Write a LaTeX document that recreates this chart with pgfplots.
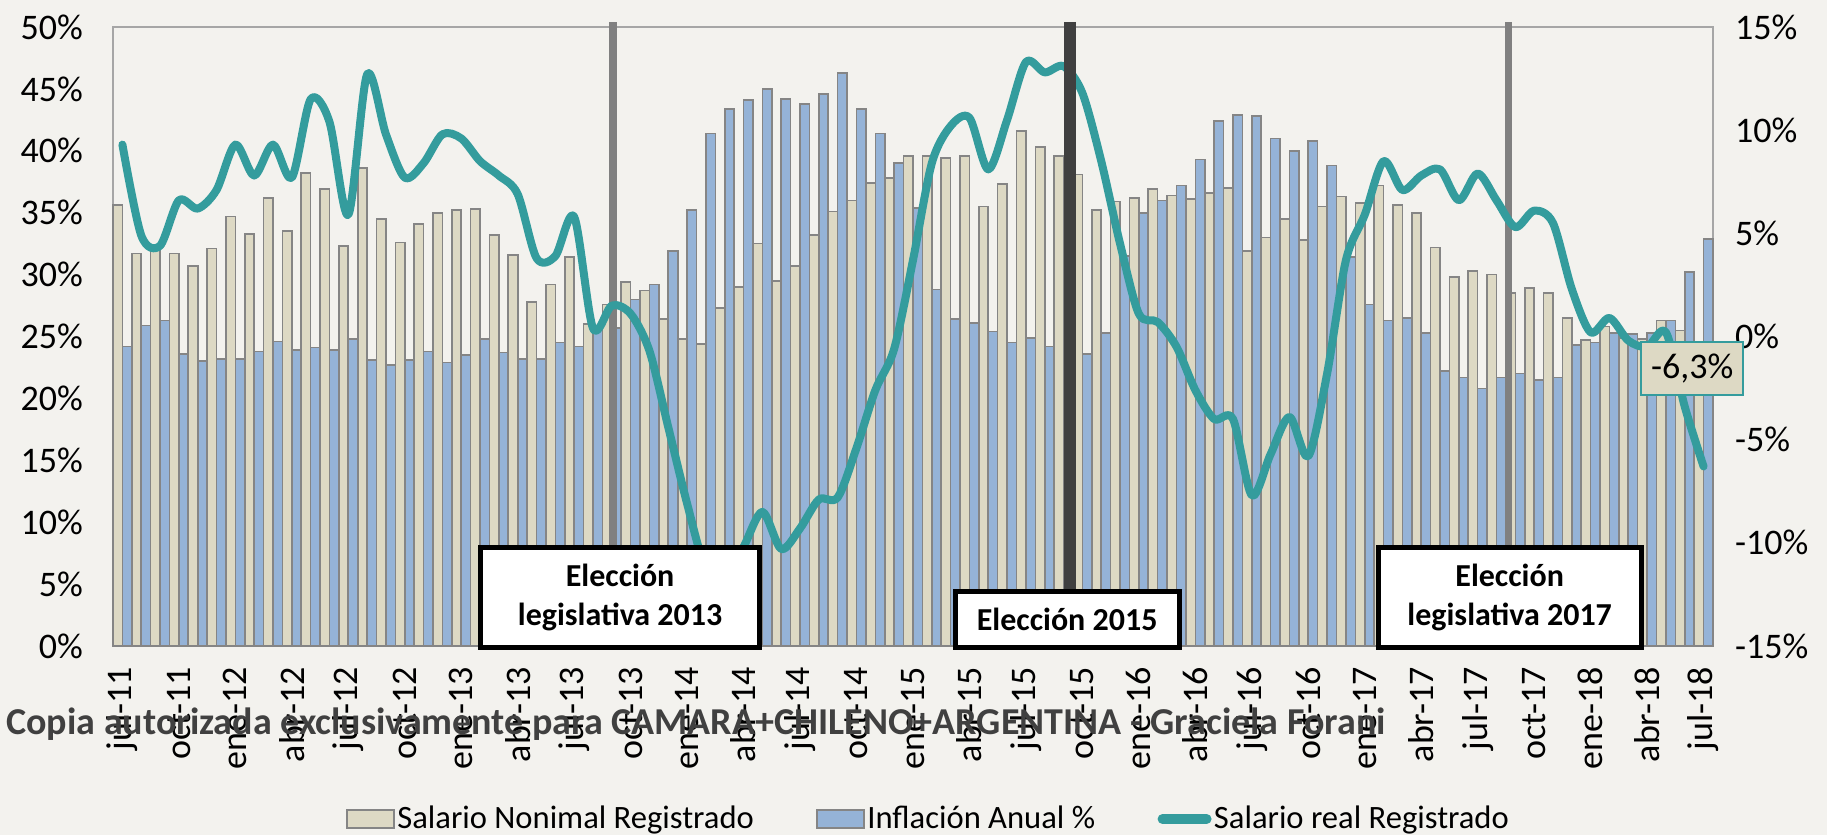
\documentclass[border=0pt]{standalone}
\usepackage{fontspec}
\setmainfont{Carlito}
\usepackage{pgfplots}
\pgfplotsset{compat=1.18}
\usepackage{pgfplotstable}
\definecolor{bgc}{HTML}{F3F2EE}
\definecolor{beigeb}{HTML}{DDD9C4}
\definecolor{blueb}{HTML}{95B3D7}
\definecolor{tealr}{HTML}{349C9D}
\definecolor{edgeg}{HTML}{858585}
\definecolor{frameg}{HTML}{A6A6A6}
\definecolor{elgray}{HTML}{808080}
\definecolor{eldark}{HTML}{404040}
\pgfplotsset{
  barleg/.style={legend image code/.code={\draw[##1] (0pt,-4.5pt) rectangle (23.5pt,4.5pt);}},
  lineleg/.style={legend image code/.code={\draw[##1] (0pt,0pt) -- (22pt,0pt);}},
}

\pgfplotstableread{
x nom inf real
0 35.6 24.2 9.3
1 31.7 25.9 4.9
2 32.0 26.3 4.4
3 31.7 23.6 6.6
4 30.7 23.0 6.2
5 32.1 23.2 7.1
6 34.7 23.2 9.3
7 33.3 23.8 7.8
8 36.2 24.6 9.3
9 33.5 23.9 7.7
10 38.2 24.1 11.5
11 36.9 23.9 10.4
12 32.3 24.8 5.9
13 38.6 23.1 12.7
14 34.5 22.7 9.8
15 32.6 23.1 7.7
16 34.1 23.8 8.4
17 35.0 22.9 9.8
18 35.2 23.5 9.6
19 35.3 24.8 8.5
20 33.2 23.7 7.8
21 31.6 23.2 6.9
22 27.8 23.2 3.8
23 29.2 24.5 3.9
24 31.4 24.2 5.8
25 26.0 25.5 0.4
26 27.6 25.7 1.5
27 29.4 28.0 1.1
28 28.7 29.2 -0.7
29 26.4 31.9 -4.4
30 24.8 35.2 -8.1
31 24.4 41.4 -11.3
32 27.3 43.4 -11.8
33 29.0 44.1 -10.2
34 32.5 45.0 -8.5
35 29.5 44.2 -10.3
36 30.7 43.8 -9.3
37 33.2 44.6 -7.9
38 35.1 46.3 -7.8
39 36.0 43.4 -5.4
40 37.4 41.4 -2.6
41 37.8 39.0 -0.6
42 39.6 35.4 3.7
43 39.6 28.8 8.4
44 39.4 26.4 10.2
45 39.6 26.1 10.6
46 35.5 25.4 8.1
47 37.3 24.5 10.5
48 41.6 24.9 13.3
49 40.3 24.2 12.8
50 39.6 24.0 13.1
51 38.1 23.6 11.8
52 35.2 25.3 8.5
53 35.9 31.5 4.5
54 36.2 35.0 1.1
55 36.9 36.0 0.7
56 36.4 37.2 -0.5
57 36.1 39.3 -2.6
58 36.6 42.4 -4.0
59 37.0 42.9 -4.0
60 31.9 42.8 -7.7
61 33.0 41.0 -5.7
62 34.5 40.0 -3.9
63 32.8 40.8 -5.8
64 35.5 38.8 -1.8
65 36.3 31.4 3.7
66 35.8 27.6 5.9
67 37.2 26.3 8.5
68 35.6 26.5 7.1
69 35.0 25.3 7.8
70 32.2 22.2 8.1
71 29.8 21.7 6.6
72 30.3 20.8 7.9
73 30.0 21.7 6.6
74 28.5 22.0 5.3
75 28.9 21.5 6.1
76 28.5 21.7 5.5
77 26.5 24.3 2.3
78 24.7 24.5 0.2
79 25.8 25.3 0.9
80 24.9 25.2 -0.2
81 24.8 25.3 -0.5
82 26.3 26.3 0.2
83 25.5 30.2 -3.4
84 23.5 32.9 -6.3
}\datatable

\begin{document}
\begin{tikzpicture}
\fill[bgc] (-56.5pt,-94.5pt) rectangle (857pt,323pt);
\begin{axis}[
  name=ax1,
  at={(0pt,0pt)}, anchor=south west,
  scale only axis, width=800pt, height=309.5pt,
  xmin=-0.5, xmax=84.5, ymin=0, ymax=50,
  clip=false,
  ybar=0pt, bar width=4.706pt,
  axis line style={draw=frameg, line width=0.8pt},
  major tick length=0pt,
  ytick={0,5,...,50},
  yticklabels={0\%,5\%,10\%,15\%,20\%,25\%,30\%,35\%,40\%,45\%,50\%},
  ytick pos=left, xtick pos=bottom,
  xtick={0,3,...,84},
  xticklabels={jul-11,oct-11,ene-12,abr-12,jul-12,oct-12,ene-13,abr-13,jul-13,oct-13,ene-14,abr-14,jul-14,oct-14,ene-15,abr-15,jul-15,oct-15,ene-16,abr-16,jul-16,oct-16,ene-17,abr-17,jul-17,oct-17,ene-18,abr-18,jul-18},
  yticklabel style={font=\fontsize{18}{21.6}\selectfont, xshift=-11.5pt},
  xticklabel style={font=\fontsize{18}{21.6}\selectfont, yshift=-7pt, rotate=90, anchor=east},
  legend columns=3,
  legend style={at={(0.1456,-0.2795)}, anchor=west, draw=none, fill=none, inner sep=0pt,
    font=\fontsize{16.3}{19}\selectfont,
    nodes={inner sep=1.2pt},
    /tikz/every even column/.append style={column sep=30pt}},
]
\addplot[fill=beigeb, draw=edgeg, line width=0.8pt, barleg]
  table[x=x,y=nom]{\datatable};
\addlegendentry{Salario Nonimal Registrado}
\addplot[fill=blueb, draw=edgeg, line width=0.8pt, barleg]
  table[x=x,y=inf]{\datatable};
\addlegendentry{Inflación Anual \%}
\addlegendimage{tealr, line width=5pt, line cap=round, lineleg}
\addlegendentry{Salario real Registrado}
\draw[elgray, line width=3.75pt] (axis cs:26.07,50.4) -- (axis cs:26.07,7.9);
\draw[elgray, line width=3.5pt] (axis cs:73.62,50.4) -- (axis cs:73.62,7.9);
\end{axis}
\begin{axis}[
  at={(0pt,0pt)}, anchor=south west,
  scale only axis, width=800pt, height=309.5pt,
  xmin=-0.5, xmax=84.5, ymin=-15, ymax=15,
  clip=false,
  axis y line*=right, axis x line=none,
  y axis line style={draw=none},
  major tick length=0pt,
  ytick={-15,-10,...,15},
  yticklabels={-15\%,-10\%,-5\%,0\%,5\%,10\%,15\%},
  yticklabel style={font=\fontsize{18}{21.6}\selectfont, xshift=7.5pt},
]
\addplot[tealr, line width=4pt, smooth, tension=0.5, line join=round, line cap=round]
  table[x=x,y=real]{\datatable};
\draw[eldark, line width=6pt] (axis cs:50.35,15.25) -- (axis cs:50.35,-12.4);
\draw[black, fill=white, line width=2.5pt] (axis cs:19.05,-15.05) rectangle (axis cs:33.83,-10.25);
\draw[black, fill=white, line width=2.5pt] (axis cs:44.24,-15.05) rectangle (axis cs:56.14,-12.38);
\draw[black, fill=white, line width=2.5pt] (axis cs:66.72,-15.05) rectangle (axis cs:80.69,-10.25);
\node[font=\bfseries\fontsize{16}{19.5}\selectfont, align=center] at (axis cs:26.44,-12.65) {Elección\\legislativa 2013};
\node[font=\bfseries\fontsize{16}{19.5}\selectfont] at (axis cs:50.19,-13.72) {Elección 2015};
\node[font=\bfseries\fontsize{16}{19.5}\selectfont, align=center] at (axis cs:73.7,-12.65) {Elección\\legislativa 2017};
\node[draw=tealr, fill=beigeb, line width=0.8pt, minimum width=51pt, minimum height=26.5pt, inner sep=0pt,
  font=\fontsize{18}{21.6}\selectfont] at (axis cs:83.4,-1.55) {-6,3\%};
\end{axis}
\node[anchor=west, font=\bfseries\fontsize{19}{22}\selectfont, text=eldark, inner sep=0pt] at (-53.5pt,-39pt)
  {Copia autorizada exclusivamente para CAMARA+CHILENO+ARGENTINA - Graciela Forani};
\pgfresetboundingbox
\useasboundingbox (-56.5pt,-94.5pt) rectangle (857pt,323pt);
\end{tikzpicture}
\end{document}
